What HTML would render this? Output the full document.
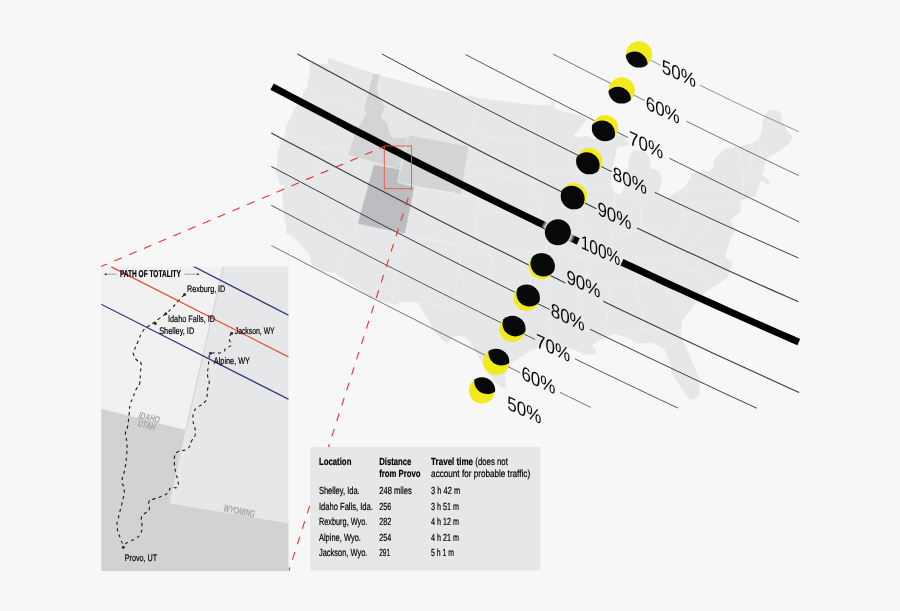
<!DOCTYPE html>
<html><head><meta charset="utf-8"><title>Eclipse path</title>
<style>
html,body{margin:0;padding:0;background:#f7f7f8;overflow:hidden;}
svg{display:block;will-change:transform;font-family:"Liberation Sans",sans-serif;}
</style></head><body>
<svg width="900" height="611" viewBox="0 0 900 611">
<rect width="900" height="611" fill="#f7f7f8"/>
<polygon points="328.0,58.0 372.5,73.0 380.0,75.3 410.0,83.3 420.0,86.2 476.7,97.5 494.8,100.0 533.3,105.0 550.8,105.3 551.7,101.3 554.2,101.7 554.7,108.3 563.3,111.7 571.7,113.3 588.3,118.7 581.0,127.0 573.7,135.8 580.0,137.5 586.7,135.8 593.3,139.2 604.0,137.0 616.7,135.0 623.3,135.8 630.0,144.2 626.7,145.8 617.5,147.5 614.2,160.0 611.3,171.7 610.8,180.0 612.5,188.3 615.0,193.3 620.8,194.2 624.2,188.3 625.8,176.7 628.3,165.0 630.0,155.0 633.3,150.0 643.3,150.8 649.2,156.7 651.3,163.3 649.7,169.2 654.2,169.2 659.2,170.8 661.7,178.3 660.8,186.7 658.3,193.3 663.3,196.5 666.7,198.3 676.7,191.7 685.0,186.7 690.8,177.5 691.7,173.3 710.0,170.8 715.0,165.0 713.3,162.5 715.0,158.3 721.7,151.7 726.7,148.3 738.3,146.7 753.3,142.5 758.3,140.0 761.7,131.7 762.5,121.7 766.7,111.7 768.3,110.8 776.7,110.0 780.8,113.3 782.5,121.7 786.7,130.0 792.5,136.7 790.0,142.5 783.3,148.3 776.7,153.3 770.0,155.8 765.0,161.7 764.2,168.3 761.7,175.0 766.7,178.3 770.8,182.5 766.7,185.0 763.3,180.8 760.0,181.7 758.3,188.3 755.8,193.3 756.7,195.0 741.7,200.8 740.0,203.0 741.0,208.0 740.0,212.5 730.0,220.0 735.0,230.0 730.0,240.0 725.0,257.5 732.5,262.5 727.5,277.5 705.0,292.5 692.5,307.5 682.5,320.0 680.5,331.2 685.0,345.0 692.5,362.5 698.8,377.5 700.0,390.0 697.5,397.5 690.0,400.0 682.5,390.0 672.5,375.0 670.0,365.0 665.0,350.0 652.5,342.5 637.5,343.8 628.0,338.0 615.0,333.8 600.0,340.0 592.5,345.0 597.5,353.8 585.0,355.0 570.0,347.5 550.0,350.0 542.5,346.0 530.0,351.0 512.5,362.5 505.0,375.0 506.0,388.8 498.8,386.0 487.5,372.5 478.3,356.8 473.3,348.3 470.0,341.7 465.0,336.7 455.0,335.8 450.0,340.0 447.5,344.2 440.0,338.3 433.3,330.0 428.3,320.0 421.7,310.0 418.3,302.5 399.2,301.7 398.3,305.0 390.0,303.3 373.3,299.2 335.0,273.3 321.7,270.8 311.7,264.2 310.0,255.0 303.3,247.5 296.7,240.0 290.0,235.0 285.8,233.3 286.7,228.3 284.2,216.7 283.3,205.0 281.7,191.7 284.2,185.8 280.0,185.0 275.8,171.7 277.5,160.0 276.7,153.3 280.0,145.0 285.0,133.3 286.7,125.0 290.8,116.7 296.7,105.0 302.5,95.0 305.8,88.3 308.3,85.8 307.0,82.5 308.7,78.3 310.0,71.7 309.2,62.5 320.0,63.5 328.0,64.5" fill="#e6e7e9" />
<polygon points="373.0,73.2 380.0,75.0 377.0,87.5 379.2,96.2 385.0,107.5 381.2,117.5 387.5,122.5 389.5,132.5 392.5,137.5 406.2,137.5 408.8,135.0 400.0,169.5 348.0,155.0 355.0,132.5 366.2,113.8 363.8,108.8" fill="#d3d4d6" stroke="#ebebed" stroke-width="0.6"/>
<polygon points="408.8,135.0 468.8,146.2 461.2,194.5 397.5,182.5" fill="#d3d4d6" stroke="#ebebed" stroke-width="0.6"/>
<polygon points="373.8,164.5 400.0,169.5 397.5,182.5 414.5,187.0 405.0,233.8 357.5,223.8" fill="#bcbdc0" stroke="#dedfe1" stroke-width="0.6"/>
<polyline points="308.3,85.8 313.7,89.2 314.7,95.8 323.3,100.0 340.0,102.5 353.3,105.0 363.3,109.2" fill="none" stroke="#f1f1f2" stroke-width="0.6"/>
<polyline points="285.0,134.2 321.7,146.7 348.3,153.3" fill="none" stroke="#f1f1f2" stroke-width="0.6"/>
<polyline points="320.0,147.5 310.0,181.7 341.7,240.0 345.0,250.0" fill="none" stroke="#f1f1f2" stroke-width="0.6"/>
<polyline points="358.0,222.5 354.2,233.3 348.3,232.5 345.8,236.7 346.7,251.7 341.7,260.0 337.5,268.3 335.0,273.3" fill="none" stroke="#f1f1f2" stroke-width="0.6"/>
<polyline points="404.2,233.3 390.0,303.3" fill="none" stroke="#f1f1f2" stroke-width="0.6"/>
<polyline points="405.0,233.8 461.0,245.0" fill="none" stroke="#f1f1f2" stroke-width="0.6"/>
<polyline points="476.7,97.5 471.7,134.2 467.5,146.7" fill="none" stroke="#f1f1f2" stroke-width="0.6"/>
<polyline points="471.7,134.2 535.0,142.5" fill="none" stroke="#f1f1f2" stroke-width="0.6"/>
<polyline points="533.3,105.0 535.0,142.5 532.5,146.7 535.0,153.3 534.2,173.3 533.3,183.3" fill="none" stroke="#f1f1f2" stroke-width="0.6"/>
<polyline points="465.0,170.8 516.7,178.3 530.0,180.8 533.3,183.3 536.7,198.3 540.0,213.3 543.3,220.0" fill="none" stroke="#f1f1f2" stroke-width="0.6"/>
<polyline points="460.8,195.0 479.2,198.3 477.5,210.8 473.3,246.7" fill="none" stroke="#f1f1f2" stroke-width="0.6"/>
<polyline points="477.5,210.8 541.0,216.5" fill="none" stroke="#f1f1f2" stroke-width="0.6"/>
<polyline points="414.5,187.0 461.2,194.5" fill="none" stroke="#f1f1f2" stroke-width="0.6"/>
<polyline points="410.0,236.7 473.3,246.7 545.0,253.0" fill="none" stroke="#f1f1f2" stroke-width="0.6"/>
<polyline points="463.3,246.7 460.8,255.0 453.3,306.7 416.7,302.5" fill="none" stroke="#f1f1f2" stroke-width="0.6"/>
<polyline points="461.7,253.3 491.7,255.8 489.2,276.7 493.3,283.3 515.0,290.8 543.3,296.7 546.7,298.3 547.5,311.7 551.0,330.0 548.0,346.0" fill="none" stroke="#f1f1f2" stroke-width="0.6"/>
<polyline points="535.0,173.3 580.8,173.3" fill="none" stroke="#f1f1f2" stroke-width="0.6"/>
<polyline points="573.7,135.8 571.7,145.0 568.3,153.3 569.2,160.0 580.0,171.7 581.7,178.3 586.0,190.0 580.0,200.0 580.0,210.0 578.3,218.3 585.0,228.3 590.0,240.0 588.3,248.3 592.0,262.0 590.0,265.0 578.3,295.0 577.0,315.0 585.0,330.0" fill="none" stroke="#f1f1f2" stroke-width="0.6"/>
<polyline points="543.3,220.0 548.0,226.0 546.0,253.0 547.0,297.0" fill="none" stroke="#f1f1f2" stroke-width="0.6"/>
<polyline points="546.0,253.0 592.0,258.0" fill="none" stroke="#f1f1f2" stroke-width="0.6"/>
<polyline points="581.7,190.0 612.5,189.0" fill="none" stroke="#f1f1f2" stroke-width="0.6"/>
<polyline points="615.0,198.3 613.3,233.3 609.0,243.0 613.3,236.7 640.0,230.0 656.7,226.7 668.0,238.0 680.0,230.0 684.0,215.0 680.0,208.3" fill="none" stroke="#f1f1f2" stroke-width="0.6"/>
<polyline points="640.0,196.7 640.8,228.3" fill="none" stroke="#f1f1f2" stroke-width="0.6"/>
<polyline points="615.0,197.5 655.0,195.0" fill="none" stroke="#f1f1f2" stroke-width="0.6"/>
<polyline points="593.3,262.5 676.7,259.2 728.0,252.0" fill="none" stroke="#f1f1f2" stroke-width="0.6"/>
<polyline points="593.3,281.7 635.0,281.7 660.0,280.0 683.3,313.3" fill="none" stroke="#f1f1f2" stroke-width="0.6"/>
<polyline points="660.0,280.0 676.0,268.0 700.0,272.0 712.0,286.0" fill="none" stroke="#f1f1f2" stroke-width="0.6"/>
<polyline points="610.0,282.5 605.8,330.0 608.0,338.0" fill="none" stroke="#f1f1f2" stroke-width="0.6"/>
<polyline points="635.0,281.7 643.3,320.0 641.7,330.0 608.0,331.0" fill="none" stroke="#f1f1f2" stroke-width="0.6"/>
<polyline points="641.7,330.0 680.0,331.0" fill="none" stroke="#f1f1f2" stroke-width="0.6"/>
<polyline points="676.7,259.2 690.0,246.0 700.0,238.0 706.0,226.0 712.0,222.0" fill="none" stroke="#f1f1f2" stroke-width="0.6"/>
<polyline points="680.0,208.3 681.0,197.0 676.7,191.7" fill="none" stroke="#f1f1f2" stroke-width="0.6"/>
<polyline points="681.0,205.0 722.0,201.0 729.2,201.7 731.7,193.3 726.7,186.7 685.0,190.0" fill="none" stroke="#f1f1f2" stroke-width="0.6"/>
<polyline points="738.3,146.7 743.3,176.7 741.7,198.3" fill="none" stroke="#f1f1f2" stroke-width="0.6"/>
<polyline points="753.3,142.5 750.0,171.7" fill="none" stroke="#f1f1f2" stroke-width="0.6"/>
<polyline points="758.3,140.0 761.7,160.0" fill="none" stroke="#f1f1f2" stroke-width="0.6"/>
<polyline points="743.3,174.2 761.7,170.8" fill="none" stroke="#f1f1f2" stroke-width="0.6"/>
<polyline points="742.5,183.3 758.3,180.8" fill="none" stroke="#f1f1f2" stroke-width="0.6"/>
<polyline points="639.0,54.1 643.9,56.7 648.8,59.3 653.8,61.8 658.7,64.4 660.8,65.5" fill="none" stroke="#3c3c3e" stroke-width="0.55" stroke-linecap="butt"/>
<polyline points="700.0,85.3 704.9,87.7 709.8,90.1 714.8,92.5 719.7,94.9 724.6,97.3 729.6,99.7 734.5,102.1 739.5,104.4 744.4,106.8 749.4,109.1 754.3,111.4 759.2,113.7 764.2,116.0 769.1,118.2 774.1,120.5 779.0,122.8 784.0,125.0 788.9,127.2 793.9,129.4 798.8,131.6" fill="none" stroke="#3c3c3e" stroke-width="0.55" stroke-linecap="butt"/>
<polyline points="553.0,54.0 560.4,57.8 567.7,61.5 575.1,65.3 582.5,69.1 589.9,72.9 597.2,76.6 604.6,80.3 612.0,84.1 619.4,87.8 621.7,89.0" fill="none" stroke="#3c3c3e" stroke-width="0.7" stroke-linecap="butt"/>
<polyline points="621.7,89.0 628.0,92.1 635.3,95.8 642.7,99.5 644.7,100.5" fill="none" stroke="#3c3c3e" stroke-width="0.7" stroke-linecap="butt"/>
<polyline points="686.3,121.2 693.1,124.5 700.5,128.1 707.8,131.8 715.2,135.4 722.6,139.0 729.9,142.5 737.3,146.1 744.7,149.7 752.1,153.2 759.4,156.8 766.8,160.3 774.2,163.8 781.5,167.4 788.9,170.9 796.3,174.4 798.8,175.5" fill="none" stroke="#3c3c3e" stroke-width="0.7" stroke-linecap="butt"/>
<polyline points="465.5,54.5 475.5,59.7 485.5,64.9 495.5,70.1 505.5,75.3 515.6,80.4 525.6,85.6 535.6,90.7 545.6,95.8 555.6,100.9 565.6,106.0 575.6,111.1 585.6,116.2 595.6,121.3 605.1,126.0" fill="none" stroke="#3c3c3e" stroke-width="0.85" stroke-linecap="butt"/>
<polyline points="605.1,126.0 614.0,130.5 624.0,135.6 628.1,137.6" fill="none" stroke="#3c3c3e" stroke-width="0.85" stroke-linecap="butt"/>
<polyline points="669.2,158.2 679.1,163.1 689.1,168.0 699.1,173.0 709.1,177.9 719.1,182.9 729.1,187.8 739.1,192.7 749.1,197.6 759.2,202.5 769.2,207.4 779.2,212.3 789.2,217.1 799.2,222.0" fill="none" stroke="#3c3c3e" stroke-width="0.85" stroke-linecap="butt"/>
<polyline points="382.0,54.0 394.5,60.7 407.0,67.4 419.5,74.1 432.0,80.7 444.5,87.3 457.0,93.8 469.5,100.3 482.0,106.8 494.5,113.2 506.9,119.6 519.4,126.0 531.9,132.3 544.4,138.5 556.9,144.8 569.4,151.0 581.9,157.2 589.4,160.8" fill="none" stroke="#3c3c3e" stroke-width="1.0" stroke-linecap="butt"/>
<polyline points="589.4,160.8 600.7,166.3 611.8,171.7" fill="none" stroke="#3c3c3e" stroke-width="1.0" stroke-linecap="butt"/>
<polyline points="654.7,192.3 665.2,197.3 677.7,203.2 690.2,209.0 702.7,214.8 715.2,220.6 727.7,226.3 740.2,232.0 752.7,237.6 765.2,243.2 777.7,248.8 790.2,254.3 798.5,258.0" fill="none" stroke="#3c3c3e" stroke-width="1.0" stroke-linecap="butt"/>
<polyline points="297.4,54.0 312.4,62.3 327.5,70.5 342.5,78.6 357.5,86.7 372.6,94.8 387.6,102.8 402.6,110.8 417.7,118.7 432.7,126.5 447.7,134.3 462.8,142.1 477.8,149.8 492.8,157.4 507.9,165.0 522.9,172.5 537.9,180.0 553.0,187.5 568.0,194.9 574.0,197.8" fill="none" stroke="#3c3c3e" stroke-width="1.15" stroke-linecap="butt"/>
<polyline points="574.0,197.8 588.0,204.6 596.4,208.7" fill="none" stroke="#3c3c3e" stroke-width="1.15" stroke-linecap="butt"/>
<polyline points="637.0,228.1 650.7,234.6 665.7,241.7 680.7,248.7 695.8,255.6 710.8,262.5 725.8,269.4 740.9,276.2 755.9,282.9 770.9,289.6 786.0,296.3 798.5,301.8" fill="none" stroke="#3c3c3e" stroke-width="1.15" stroke-linecap="butt"/>
<clipPath id="thk"><path d="M526.4,219.4 L529.4,213.2 L589.4,243.2 L586.4,249.4 Z"/></clipPath>
<polyline points="272.1,86.6 287.9,95.0 303.7,103.4 319.5,111.7 335.3,120.0 351.1,128.3 366.9,136.4 382.7,144.6 398.5,152.7 414.3,160.8 430.1,168.8 445.9,176.7 461.7,184.6 477.5,192.5 493.3,200.3 509.1,208.1 524.9,215.8 540.7,223.5 556.5,231.1 572.3,238.7 578.3,241.5" fill="none" stroke="#000" stroke-width="7.0" stroke-linecap="butt"/>
<polyline points="621.9,262.2 635.5,268.5 651.3,275.9 667.1,283.2 682.9,290.4 698.7,297.6 714.5,304.8 730.3,311.9 746.1,318.9 761.9,325.9 777.7,332.9 793.5,339.8 798.8,342.1" fill="none" stroke="#000" stroke-width="7.0" stroke-linecap="butt"/>
<polyline points="271.3,133.0 287.1,141.4 303.0,149.8 318.8,158.1 334.7,166.4 350.5,174.7 366.3,182.9 382.2,191.1 398.0,199.2 413.8,207.3 429.7,215.4 445.5,223.4 461.4,231.4 477.2,239.4 493.0,247.3 508.9,255.1 524.7,263.0 540.6,270.8 541.6,271.3" fill="none" stroke="#3c3c3e" stroke-width="1.15" stroke-linecap="butt"/>
<polyline points="541.6,271.3 556.4,278.5 565.4,282.9" fill="none" stroke="#3c3c3e" stroke-width="1.15" stroke-linecap="butt"/>
<polyline points="603.3,301.2 617.1,307.9 632.9,315.4 648.8,323.0 664.6,330.4 680.5,337.9 696.3,345.3 712.1,352.7 728.0,360.0 743.8,367.3 759.7,374.5 775.5,381.7 791.3,388.9 799.2,392.5" fill="none" stroke="#3c3c3e" stroke-width="1.15" stroke-linecap="butt"/>
<polyline points="271.3,166.4 285.9,174.2 300.4,181.9 315.0,189.6 329.6,197.3 344.1,205.0 358.7,212.6 373.2,220.2 387.8,227.7 402.4,235.2 416.9,242.7 431.5,250.2 446.1,257.6 460.6,265.0 475.2,272.4 489.8,279.7 504.3,287.0 518.9,294.2 526.6,298.1" fill="none" stroke="#3c3c3e" stroke-width="1.0" stroke-linecap="butt"/>
<polyline points="526.6,298.1 540.7,305.1 549.7,309.5" fill="none" stroke="#3c3c3e" stroke-width="1.0" stroke-linecap="butt"/>
<polyline points="590.0,329.2 603.8,335.9 618.4,343.0 633.0,350.0 647.5,357.0 662.1,363.9 676.7,370.8 691.2,377.7 705.8,384.5 720.3,391.4 734.9,398.1 749.5,404.9 756.8,408.2" fill="none" stroke="#3c3c3e" stroke-width="1.0" stroke-linecap="butt"/>
<polyline points="271.3,205.3 283.5,211.7 295.7,218.1 307.9,224.5 320.1,230.9 332.3,237.2 344.5,243.5 356.7,249.8 368.9,256.1 381.1,262.4 393.3,268.6 405.5,274.8 417.7,281.0 429.9,287.2 442.1,293.3 454.3,299.5 466.5,305.6 478.7,311.7 490.9,317.7 503.1,323.8 512.3,328.3" fill="none" stroke="#3c3c3e" stroke-width="0.85" stroke-linecap="butt"/>
<polyline points="512.3,328.3 523.5,333.8 535.1,339.5" fill="none" stroke="#3c3c3e" stroke-width="0.85" stroke-linecap="butt"/>
<polyline points="575.0,358.9 586.5,364.5 598.7,370.4 610.9,376.2 623.1,382.1 635.3,387.9 647.5,393.7 659.7,399.5 671.9,405.2 678.0,408.1" fill="none" stroke="#3c3c3e" stroke-width="0.85" stroke-linecap="butt"/>
<polyline points="271.3,245.5 280.9,250.5 290.5,255.5 300.1,260.5 309.6,265.5 319.2,270.5 328.8,275.5 338.4,280.5 348.0,285.4 357.6,290.4 367.1,295.3 376.7,300.2 386.3,305.1 395.9,310.0 405.5,314.9 415.1,319.8 424.7,324.7 434.2,329.6 443.8,334.4 453.4,339.3 463.0,344.1 472.6,348.9 482.2,353.7 491.8,358.5 496.0,360.6" fill="none" stroke="#3c3c3e" stroke-width="0.7" stroke-linecap="butt"/>
<polyline points="496.0,360.6 504.5,364.9 514.1,369.7 520.4,372.8" fill="none" stroke="#3c3c3e" stroke-width="0.7" stroke-linecap="butt"/>
<polyline points="560.0,392.4 568.4,396.5 578.0,401.2 587.6,405.9 590.8,407.5" fill="none" stroke="#3c3c3e" stroke-width="0.7" stroke-linecap="butt"/>
<defs><radialGradient id="glow"><stop offset="0.72" stop-color="#fff" stop-opacity="1"/><stop offset="1" stop-color="#fff" stop-opacity="0"/></radialGradient></defs>
<clipPath id="c0"><circle cx="639.0" cy="54.3" r="13.3"/></clipPath>
<circle cx="639.0" cy="54.3" r="13.0" fill="#f3ea1c"/>
<circle cx="634.6" cy="64.6" r="13.0" fill="#07080a" clip-path="url(#c0)"/>
<clipPath id="c1"><circle cx="621.7" cy="90.3" r="13.3"/></clipPath>
<circle cx="621.7" cy="90.3" r="13.0" fill="#f3ea1c"/>
<circle cx="617.9" cy="99.8" r="13.0" fill="#07080a" clip-path="url(#c1)"/>
<clipPath id="c2"><circle cx="605.1" cy="127.9" r="13.3"/></clipPath>
<circle cx="605.1" cy="127.9" r="13.0" fill="#f3ea1c"/>
<circle cx="602.0" cy="133.5" r="13.0" fill="#07080a" clip-path="url(#c2)"/>
<clipPath id="c3"><circle cx="589.4" cy="161.0" r="13.3"/></clipPath>
<circle cx="589.4" cy="161.0" r="13.0" fill="#f3ea1c"/>
<circle cx="586.6" cy="165.3" r="13.0" fill="#07080a" clip-path="url(#c3)"/>
<clipPath id="c4"><circle cx="574.0" cy="196.0" r="13.3"/></clipPath>
<circle cx="574.0" cy="196.0" r="13.0" fill="#f3ea1c"/>
<circle cx="571.6" cy="198.8" r="13.0" fill="#07080a" clip-path="url(#c4)"/>
<circle cx="557.9" cy="232.2" r="18" fill="url(#glow)" clip-path="url(#thk)"/>
<circle cx="557.9" cy="232.2" r="13.0" fill="#07080a"/>
<clipPath id="c6"><circle cx="541.6" cy="266.3" r="13.3"/></clipPath>
<circle cx="541.6" cy="266.3" r="13.0" fill="#f3ea1c"/>
<circle cx="543.5" cy="263.6" r="13.0" fill="#07080a" clip-path="url(#c6)"/>
<clipPath id="c7"><circle cx="526.6" cy="297.9" r="13.3"/></clipPath>
<circle cx="526.6" cy="297.9" r="13.0" fill="#f3ea1c"/>
<circle cx="529.4" cy="293.6" r="13.0" fill="#07080a" clip-path="url(#c7)"/>
<clipPath id="c8"><circle cx="512.3" cy="329.0" r="13.3"/></clipPath>
<circle cx="512.3" cy="329.0" r="13.0" fill="#f3ea1c"/>
<circle cx="515.4" cy="323.4" r="13.0" fill="#07080a" clip-path="url(#c8)"/>
<clipPath id="c9"><circle cx="496.0" cy="362.0" r="13.3"/></clipPath>
<circle cx="496.0" cy="362.0" r="13.0" fill="#f3ea1c"/>
<circle cx="501.4" cy="352.5" r="13.0" fill="#07080a" clip-path="url(#c9)"/>
<clipPath id="c10"><circle cx="481.9" cy="390.5" r="13.3"/></clipPath>
<circle cx="481.9" cy="390.5" r="13.0" fill="#f3ea1c"/>
<circle cx="487.2" cy="381.1" r="13.0" fill="#07080a" clip-path="url(#c10)"/>
<text transform="translate(661.8,72.4) skewY(24.5)" font-size="19.5" textLength="34.0" lengthAdjust="spacingAndGlyphs" fill="#0a0a0a">50%</text>
<text transform="translate(645.7,108.9) skewY(24.5)" font-size="19.5" textLength="34.0" lengthAdjust="spacingAndGlyphs" fill="#0a0a0a">60%</text>
<text transform="translate(629.1,144.0) skewY(24.5)" font-size="19.5" textLength="34.0" lengthAdjust="spacingAndGlyphs" fill="#0a0a0a">70%</text>
<text transform="translate(612.8,179.4) skewY(24.5)" font-size="19.5" textLength="34.0" lengthAdjust="spacingAndGlyphs" fill="#0a0a0a">80%</text>
<text transform="translate(597.4,214.6) skewY(24.5)" font-size="19.5" textLength="34.0" lengthAdjust="spacingAndGlyphs" fill="#0a0a0a">90%</text>
<text transform="translate(580.7,248.1) skewY(24.5)" font-size="19.5" textLength="39.5" lengthAdjust="spacingAndGlyphs" fill="#0a0a0a">100%</text>
<text transform="translate(566.4,282.8) skewY(24.5)" font-size="19.5" textLength="34.0" lengthAdjust="spacingAndGlyphs" fill="#0a0a0a">90%</text>
<text transform="translate(550.7,316.1) skewY(24.5)" font-size="19.5" textLength="34.0" lengthAdjust="spacingAndGlyphs" fill="#0a0a0a">80%</text>
<text transform="translate(536.1,346.8) skewY(24.5)" font-size="19.5" textLength="34.0" lengthAdjust="spacingAndGlyphs" fill="#0a0a0a">70%</text>
<text transform="translate(521.4,379.1) skewY(24.5)" font-size="19.5" textLength="34.0" lengthAdjust="spacingAndGlyphs" fill="#0a0a0a">60%</text>
<text transform="translate(507.3,408.9) skewY(24.5)" font-size="19.5" textLength="34.0" lengthAdjust="spacingAndGlyphs" fill="#0a0a0a">50%</text>
<rect x="384.3" y="146" width="27.3" height="42.7" fill="none" stroke="#e9583a" stroke-width="0.9"/>
<line x1="101" y1="266.6" x2="384" y2="146.6" stroke="#ee3328" stroke-width="1.1" stroke-dasharray="8.2,7.82" stroke-dashoffset="1.5"/>
<line x1="411.2" y1="188.7" x2="288.8" y2="571" stroke="#ee3328" stroke-width="1.1" stroke-dasharray="8.0,8.17" stroke-dashoffset="6.6"/>
<clipPath id="inset"><rect x="101.2" y="266.4" width="187.3" height="304.5"/></clipPath>
<g clip-path="url(#inset)">
<rect x="101.2" y="266.4" width="187.3" height="304.5" fill="#f1f1f2"/>
<polygon points="223.4,266.0 290.0,266.0 290.0,523.4 169.5,503.3 185.8,430.0" fill="#e6e7e9" />
<polygon points="100.0,408.4 185.8,430.0 169.5,503.3 290.0,523.4 290.0,573.0 100.0,573.0" fill="#d1d2d4" />
<line x1="223.4" y1="266" x2="185.8" y2="430" stroke="#c4c5c7" stroke-width="0.7"/>
<path d="M184.2,295.0 C182.2,296.9 182.5,296.4 178.3,300.8 C174.1,305.2 175.9,304.0 171.7,308.3 C167.5,312.6 170.3,310.1 165.8,313.7 C161.3,317.3 162.5,316.1 158.3,319.2 C154.1,322.3 156.9,320.4 153.3,323.0 C149.7,325.6 151.1,324.1 147.5,327.0 C143.9,329.9 145.6,327.1 142.5,331.7 C139.4,336.3 141.1,334.4 138.3,340.8 C135.5,347.2 135.7,346.2 134.2,350.8 C132.7,355.4 132.9,351.4 133.7,354.5 C134.5,357.6 134.3,357.3 136.7,360.0 C139.1,362.7 139.6,358.1 140.8,362.5 C142.0,366.9 140.7,366.4 140.3,373.3 C139.9,380.2 141.2,377.7 139.7,383.3 C138.2,388.9 138.0,385.3 135.8,390.0 C133.6,394.7 134.8,392.8 133.0,397.5 C131.2,402.2 131.6,398.9 130.3,404.2 C129.0,409.5 129.9,407.5 129.2,413.3 C128.5,419.1 129.0,416.7 128.3,421.7 C127.6,426.7 128.2,424.1 127.2,428.3 C126.2,432.5 125.5,429.4 125.4,434.4 C125.3,439.4 126.5,435.8 126.9,443.2 C127.3,450.6 127.2,447.7 126.5,456.5 C125.8,465.3 126.2,461.5 124.7,469.7 C123.2,477.9 122.2,474.6 122.1,481.2 C122.0,487.8 124.3,482.4 124.3,489.6 C124.3,496.8 123.9,494.0 122.1,502.8 C120.3,511.6 120.4,508.0 118.8,516.1 C117.2,524.2 116.7,519.7 117.2,527.1 C117.7,534.5 118.3,532.3 120.3,538.2 C122.3,544.1 122.2,542.6 123.2,544.8" fill="none" stroke="#222" stroke-width="1.15" stroke-dasharray="3.2,3.4"/>
<path d="M231.7,333.3 C230.9,335.0 229.4,334.6 229.2,338.5 C229.0,342.4 232.1,341.8 231.0,345.0 C229.9,348.2 229.0,345.5 226.0,348.0 C223.0,350.5 227.0,350.7 222.0,352.5 C217.0,354.3 215.3,351.6 211.0,353.5 C206.7,355.4 210.1,353.9 209.2,358.3 C208.3,362.7 208.9,361.1 208.3,366.7 C207.7,372.3 207.2,370.0 207.5,375.0 C207.8,380.0 209.2,376.7 209.2,381.7 C209.2,386.7 208.3,384.7 207.5,390.0 C206.7,395.3 207.8,393.3 206.7,397.5 C205.6,401.7 207.3,399.2 204.2,402.5 C201.1,405.8 200.8,404.4 197.5,407.5 C194.2,410.6 195.7,407.5 194.2,411.7 C192.7,415.9 192.8,414.7 193.0,420.0 C193.2,425.3 193.9,422.8 194.7,427.5 C195.5,432.2 196.4,429.5 195.4,434.0 C194.4,438.5 194.3,436.1 191.6,441.0 C188.9,445.9 191.6,445.3 187.2,448.8 C182.8,452.3 182.6,448.8 178.4,451.4 C174.2,454.0 175.9,451.9 174.6,456.5 C173.3,461.1 174.1,459.4 174.6,465.3 C175.1,471.2 175.1,469.0 176.2,474.2 C177.3,479.4 177.5,476.5 177.9,480.8 C178.3,485.1 179.7,484.7 177.3,487.0 C174.9,489.3 173.6,486.0 170.6,487.8 C167.6,489.6 171.3,489.5 168.4,492.3 C165.5,495.1 166.6,494.0 161.8,496.2 C157.0,498.4 158.4,497.1 154.1,498.9 C149.8,500.7 150.7,498.0 149.0,501.7 C147.3,505.4 150.6,505.8 149.0,509.9 C147.4,514.0 146.8,511.1 144.2,513.9 C141.6,516.7 142.1,514.3 141.3,518.3 C140.5,522.3 142.3,520.8 141.9,526.0 C141.5,531.2 142.4,529.6 140.2,533.8 C138.0,538.0 139.1,535.9 135.3,538.6 C131.5,541.3 132.7,539.8 128.7,541.9 C124.7,544.0 125.0,543.8 123.2,544.8" fill="none" stroke="#222" stroke-width="1.15" stroke-dasharray="3.2,3.4"/>
<circle cx="184.6" cy="294.6" r="1.5" fill="#333"/>
<circle cx="165.8" cy="313.7" r="1.5" fill="#333"/>
<circle cx="155.3" cy="323.4" r="1.5" fill="#333"/>
<circle cx="231.7" cy="333.3" r="1.5" fill="#333"/>
<circle cx="210.5" cy="353.3" r="1.5" fill="#333"/>
<circle cx="123.3" cy="547.3" r="1.5" fill="#333"/>
<line x1="110.9" y1="266.6" x2="288.9" y2="357.1" stroke="#ea4a2c" stroke-width="1.2"/>
<line x1="193.5" y1="266.4" x2="288.9" y2="315.4" stroke="#35307a" stroke-width="1.2"/>
<line x1="101.1" y1="304.2" x2="288.9" y2="399.4" stroke="#35307a" stroke-width="1.2"/>
</g>
<path d="M105,274.2 H116.5 M184.5,274.2 H198.5" stroke="#666" stroke-width="0.6" fill="none"/>
<path d="M104,274.2 l2.4,-1.3 v2.6z M199.6,274.2 l-2.4,-1.3 v2.6z" fill="#333"/>
<text transform="translate(120.0,277.2) rotate(0.03)" font-size="10.0" font-weight="bold" textLength="60.8" lengthAdjust="spacingAndGlyphs" fill="#000" stroke="#000" stroke-width="0.2">PATH OF TOTALITY</text>
<text transform="translate(187.0,291.6) rotate(0.03)" font-size="9.5" font-weight="normal" textLength="38.3" lengthAdjust="spacingAndGlyphs" fill="#000" stroke="#000" stroke-width="0.2">Rexburg, ID</text>
<text transform="translate(168.0,321.8) rotate(0.03)" font-size="9.5" font-weight="normal" textLength="47.0" lengthAdjust="spacingAndGlyphs" fill="#000" stroke="#000" stroke-width="0.2">Idaho Falls, ID</text>
<text transform="translate(159.2,333.6) rotate(0.03)" font-size="9.5" font-weight="normal" textLength="35.0" lengthAdjust="spacingAndGlyphs" fill="#000" stroke="#000" stroke-width="0.2">Shelley, ID</text>
<text transform="translate(234.7,333.6) rotate(0.03)" font-size="9.5" font-weight="normal" textLength="40.0" lengthAdjust="spacingAndGlyphs" fill="#000" stroke="#000" stroke-width="0.2">Jackson, WY</text>
<text transform="translate(213.8,363.5) rotate(0.03)" font-size="9.5" font-weight="normal" textLength="36.2" lengthAdjust="spacingAndGlyphs" fill="#000" stroke="#000" stroke-width="0.2">Alpine, WY</text>
<text transform="translate(124.8,561.0) rotate(0.03)" font-size="9.5" font-weight="normal" textLength="32.4" lengthAdjust="spacingAndGlyphs" fill="#000" stroke="#000" stroke-width="0.2">Provo, UT</text>
<text transform="translate(138.0,418.3) rotate(14.0)" font-size="10" font-style="italic" font-weight="bold" textLength="21.5" lengthAdjust="spacingAndGlyphs" fill="#a2a3a6">IDAHO</text>
<text transform="translate(137.3,426.3) rotate(14.0)" font-size="10" font-style="italic" font-weight="bold" textLength="17.5" lengthAdjust="spacingAndGlyphs" fill="#a2a3a6">UTAH</text>
<text transform="translate(223.3,511.2) rotate(11.5)" font-size="10" font-style="italic" font-weight="bold" textLength="31.5" lengthAdjust="spacingAndGlyphs" fill="#a2a3a6">WYOMING</text>
<rect x="310.3" y="447" width="230.2" height="123.5" fill="#e6e7e9"/>
<text transform="translate(318.9,465.0) rotate(0.03)" font-size="10.3" font-weight="bold" textLength="32.5" lengthAdjust="spacingAndGlyphs" fill="#000" stroke="#000" stroke-width="0.2">Location</text>
<text transform="translate(379.2,465.0) rotate(0.03)" font-size="10.3" font-weight="bold" textLength="32.2" lengthAdjust="spacingAndGlyphs" fill="#000" stroke="#000" stroke-width="0.2">Distance</text>
<text transform="translate(379.2,477.0) rotate(0.03)" font-size="10.3" font-weight="bold" textLength="41.4" lengthAdjust="spacingAndGlyphs" fill="#000" stroke="#000" stroke-width="0.2">from Provo</text>
<text transform="translate(431.1,465.0) rotate(0.03)" font-size="10.3" font-weight="bold" textLength="42.0" lengthAdjust="spacingAndGlyphs" fill="#000" stroke="#000" stroke-width="0.2">Travel time</text>
<text transform="translate(475.3,465.0) rotate(0.03)" font-size="10.3" font-weight="normal" textLength="32.5" lengthAdjust="spacingAndGlyphs" fill="#000" stroke="#000" stroke-width="0.2">(does not</text>
<text transform="translate(431.1,477.0) rotate(0.03)" font-size="10.3" font-weight="normal" textLength="99.0" lengthAdjust="spacingAndGlyphs" fill="#000" stroke="#000" stroke-width="0.2">account for probable traffic)</text>
<text transform="translate(318.9,493.6) rotate(0.03)" font-size="10.3" font-weight="normal" textLength="40.8" lengthAdjust="spacingAndGlyphs" fill="#000" stroke="#000" stroke-width="0.2">Shelley, Ida.</text>
<text transform="translate(379.2,493.6) rotate(0.03)" font-size="10.3" font-weight="normal" textLength="32.5" lengthAdjust="spacingAndGlyphs" fill="#000" stroke="#000" stroke-width="0.2">248 miles</text>
<text transform="translate(431.1,493.6) rotate(0.03)" font-size="10.3" font-weight="normal" textLength="29.0" lengthAdjust="spacingAndGlyphs" fill="#000" stroke="#000" stroke-width="0.2">3 h 42 m</text>
<text transform="translate(318.9,510.0) rotate(0.03)" font-size="10.3" font-weight="normal" textLength="54.0" lengthAdjust="spacingAndGlyphs" fill="#000" stroke="#000" stroke-width="0.2">Idaho Falls, Ida.</text>
<text transform="translate(379.2,510.0) rotate(0.03)" font-size="10.3" font-weight="normal" textLength="12.0" lengthAdjust="spacingAndGlyphs" fill="#000" stroke="#000" stroke-width="0.2">256</text>
<text transform="translate(431.1,510.0) rotate(0.03)" font-size="10.3" font-weight="normal" textLength="28.0" lengthAdjust="spacingAndGlyphs" fill="#000" stroke="#000" stroke-width="0.2">3 h 51 m</text>
<text transform="translate(318.9,524.7) rotate(0.03)" font-size="10.3" font-weight="normal" textLength="48.5" lengthAdjust="spacingAndGlyphs" fill="#000" stroke="#000" stroke-width="0.2">Rexburg, Wyo.</text>
<text transform="translate(379.2,524.7) rotate(0.03)" font-size="10.3" font-weight="normal" textLength="12.0" lengthAdjust="spacingAndGlyphs" fill="#000" stroke="#000" stroke-width="0.2">282</text>
<text transform="translate(431.1,524.7) rotate(0.03)" font-size="10.3" font-weight="normal" textLength="28.0" lengthAdjust="spacingAndGlyphs" fill="#000" stroke="#000" stroke-width="0.2">4 h 12 m</text>
<text transform="translate(318.9,541.1) rotate(0.03)" font-size="10.3" font-weight="normal" textLength="42.0" lengthAdjust="spacingAndGlyphs" fill="#000" stroke="#000" stroke-width="0.2">Alpine, Wyo.</text>
<text transform="translate(379.2,541.1) rotate(0.03)" font-size="10.3" font-weight="normal" textLength="12.0" lengthAdjust="spacingAndGlyphs" fill="#000" stroke="#000" stroke-width="0.2">254</text>
<text transform="translate(431.1,541.1) rotate(0.03)" font-size="10.3" font-weight="normal" textLength="28.0" lengthAdjust="spacingAndGlyphs" fill="#000" stroke="#000" stroke-width="0.2">4 h 21 m</text>
<text transform="translate(318.9,555.8) rotate(0.03)" font-size="10.3" font-weight="normal" textLength="48.5" lengthAdjust="spacingAndGlyphs" fill="#000" stroke="#000" stroke-width="0.2">Jackson, Wyo.</text>
<text transform="translate(379.2,555.8) rotate(0.03)" font-size="10.3" font-weight="normal" textLength="11.0" lengthAdjust="spacingAndGlyphs" fill="#000" stroke="#000" stroke-width="0.2">291</text>
<text transform="translate(431.1,555.8) rotate(0.03)" font-size="10.3" font-weight="normal" textLength="23.0" lengthAdjust="spacingAndGlyphs" fill="#000" stroke="#000" stroke-width="0.2">5 h 1 m</text>
</svg>
</body></html>
